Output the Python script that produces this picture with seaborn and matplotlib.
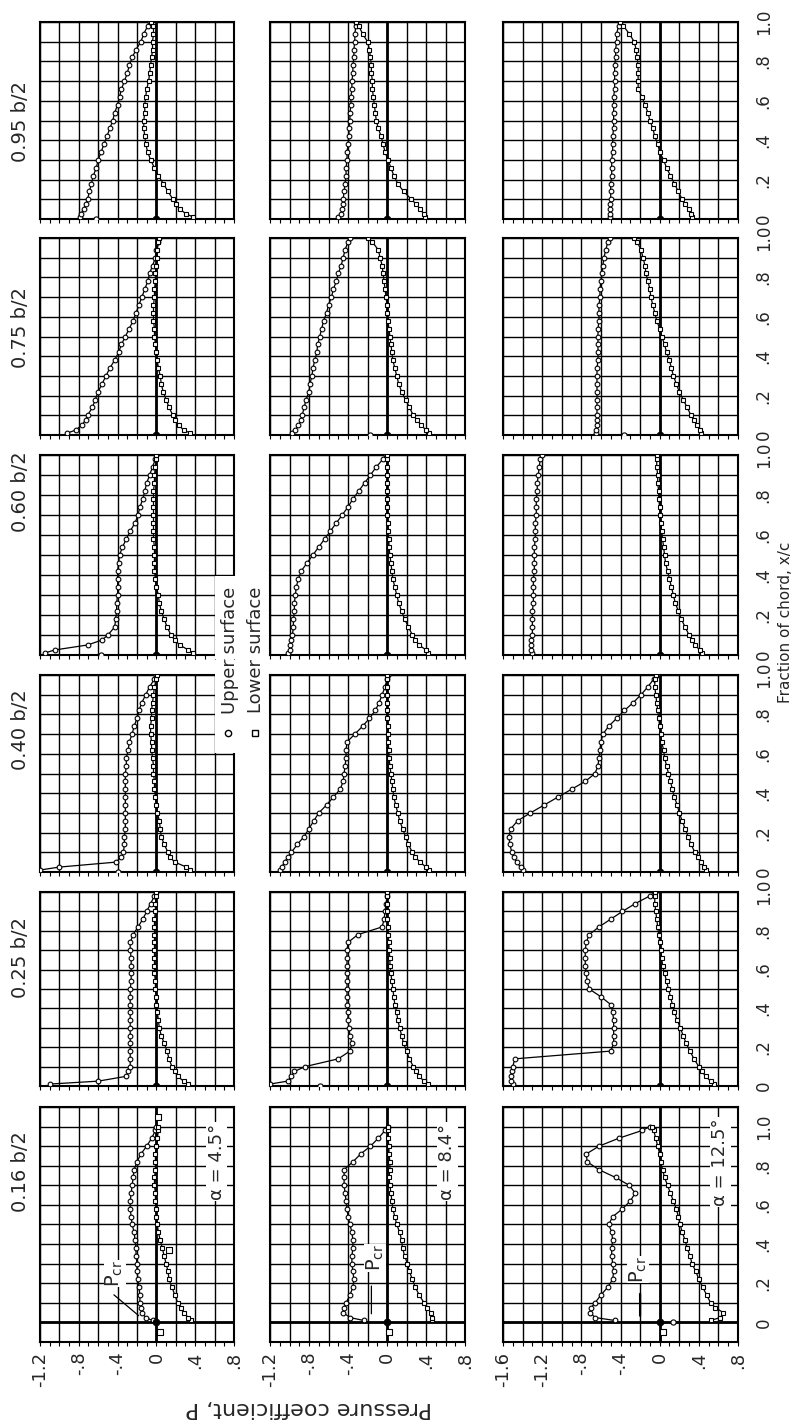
import numpy as np
import pandas as pd
import matplotlib
matplotlib.use("Agg")
import matplotlib.pyplot as plt
import seaborn as sns
from matplotlib.patches import Rectangle
from matplotlib.lines import Line2D

sns.set_theme(style="white")
plt.rcParams['font.family'] = ['DejaVu Sans']

# ---------------- data ----------------
chord = [0.01, 0.025, 0.05, 0.075, 0.10, 0.14, 0.18, 0.22, 0.26, 0.30, 0.34, 0.38, 0.42, 0.46,
         0.50, 0.54, 0.58, 0.62, 0.66, 0.70, 0.74, 0.78, 0.82, 0.86, 0.90, 0.94, 0.98, 1.0]

stations = ["0.95 b/2", "0.75 b/2", "0.60 b/2", "0.40 b/2", "0.25 b/2", "0.16 b/2"]
alphas = ["4.5°", "8.4°", "12.5°"]

# 0.95 b/2
u95_a45 = [-.79, -.78, -.75, -.73, -.71, -.69, -.67, -.65, -.62, -.60, -.57, -.54, -.51, -.48,
           -.45, -.43, -.40, -.38, -.36, -.33, -.30, -.28, -.25, -.21, -.16, -.13, -.09, -.07]
l95_a45 = [.38, .31, .24, .20, .17, .12, .07, .02, -.02, -.06, -.09, -.11, -.12, -.13,
           -.13, -.12, -.12, -.11, -.10, -.08, -.07, -.06, -.05, -.04, -.04, -.03, -.03, -.06]
u95_a84 = [-.50, -.47, -.46, -.45, -.45, -.44, -.43, -.42, -.42, -.41, -.41, -.40, -.39, -.39,
           -.38, -.38, -.37, -.37, -.36, -.36, -.35, -.35, -.34, -.34, -.33, -.33, -.32, -.32]
l95_a84 = [.39, .38, .34, .30, .25, .17, .11, .07, .04, .01, -.02, -.04, -.06, -.09,
           -.11, -.12, -.13, -.14, -.15, -.15, -.16, -.16, -.17, -.18, -.20, -.25, -.29, -.32]
u95_a125 = [-.51, -.51, -.51, -.51, -.50, -.50, -.50, -.49, -.49, -.49, -.48, -.48, -.48, -.47,
            -.47, -.47, -.47, -.47, -.46, -.46, -.46, -.46, -.45, -.45, -.44, -.44, -.42, -.41]
l95_a125 = [.33, .32, .30, .26, .23, .19, .15, .11, .07, .04, .00, -.02, -.05, -.07,
            -.10, -.12, -.15, -.18, -.22, -.22, -.22, -.22, -.23, -.24, -.26, -.31, -.37, -.41]
# 0.75 b/2
u75_a45 = [-.92, -.83, -.77, -.73, -.71, -.66, -.63, -.60, -.56, -.52, -.48, -.43, -.39, -.36,
           -.32, -.28, -.24, -.21, -.18, -.15, -.12, -.09, -.07, -.04, -.01, .00, .02, .03]
l75_a45 = [.35, .28, .23, .19, .17, .13, .10, .07, .05, .04, .02, .01, .00, -.01,
           -.02, -.02, -.03, -.03, -.03, -.02, -.02, -.01, -.01, .00, .01, .01, .02, .03]
u75_a84 = [-.97, -.94, -.91, -.88, -.87, -.85, -.83, -.80, -.79, -.77, -.76, -.74, -.72, -.71,
           -.69, -.67, -.65, -.62, -.60, -.57, -.55, -.52, -.50, -.47, -.45, -.43, -.40, -.38]
l75_a84 = [.43, .40, .35, .31, .27, .23, .19, .15, .12, .10, .08, .06, .05, .04,
           .03, .02, .01, .00, .00, -.01, -.02, -.03, -.04, -.05, -.07, -.09, -.15, -.19]
u75_a125 = [-.65, -.65, -.64, -.64, -.64, -.64, -.64, -.64, -.64, -.64, -.64, -.63, -.63, -.63,
            -.63, -.63, -.62, -.62, -.62, -.61, -.61, -.60, -.59, -.58, -.57, -.55, -.53, -.51]
l75_a125 = [.42, .41, .38, .35, .32, .28, .24, .20, .17, .14, .12, .10, .07, .05,
            .02, .00, -.03, -.05, -.07, -.09, -.10, -.12, -.14, -.15, -.17, -.19, -.23, -.26]
# 0.60 b/2
u60_a45 = [-1.15, -1.05, -.71, -.56, -.50, -.43, -.42, -.41, -.41, -.40, -.40, -.40, -.40, -.39,
           -.38, -.35, -.31, -.27, -.22, -.19, -.17, -.14, -.12, -.10, -.07, -.04, -.01, .00]
l60_a45 = [.38, .33, .24, .19, .15, .11, .08, .05, .03, .02, .00, -.01, -.02, -.02,
           -.02, -.02, -.03, -.03, -.03, -.03, -.03, -.03, -.03, -.02, -.02, -.01, .00, .00]
u60_a84 = [-1.02, -1.00, -.99, -.98, -.97, -.96, -.96, -.95, -.95, -.94, -.93, -.91, -.88, -.82,
           -.76, -.70, -.64, -.58, -.52, -.46, -.40, -.35, -.29, -.23, -.17, -.11, -.04, -.01]
l60_a84 = [.42, .40, .33, .29, .26, .22, .18, .15, .12, .10, .08, .06, .05, .04,
           .03, .02, .02, .01, .01, .00, .00, .00, .00, .00, .00, .00, .00, .00]
u60_a125 = [-1.30, -1.31, -1.31, -1.31, -1.30, -1.30, -1.30, -1.30, -1.29, -1.29, -1.29, -1.29, -1.28, -1.28,
            -1.28, -1.28, -1.27, -1.27, -1.27, -1.26, -1.26, -1.26, -1.25, -1.25, -1.24, -1.23, -1.22, -1.20]
l60_a125 = [.43, .41, .36, .33, .30, .26, .22, .19, .16, .14, .12, .10, .08, .06,
            .05, .04, .03, .02, .01, .00, .00, -.01, -.01, -.02, -.02, -.03, -.03, -.03]
# 0.40 b/2
u40_a45 = [-1.20, -1.00, -.42, -.36, -.34, -.33, -.33, -.32, -.32, -.32, -.32, -.32, -.32, -.32,
           -.32, -.31, -.31, -.29, -.28, -.25, -.23, -.20, -.18, -.15, -.11, -.07, -.02, .00]
l40_a45 = [.35, .31, .19, .14, .12, .08, .05, .04, .03, .01, .00, -.01, -.02, -.02,
           -.03, -.03, -.04, -.05, -.05, -.06, -.06, -.05, -.05, -.04, -.03, -.02, .00, .01]
u40_a84 = [-1.10, -1.08, -1.05, -1.02, -.98, -.92, -.85, -.80, -.75, -.70, -.62, -.55, -.48, -.45,
           -.44, -.43, -.42, -.42, -.41, -.33, -.25, -.18, -.12, -.08, -.05, -.02, .00, .01]
l40_a84 = [.43, .40, .34, .29, .26, .22, .19, .16, .13, .11, .09, .07, .06, .05,
           .04, .03, .02, .02, .01, .01, .01, .00, .00, .00, .00, .00, .00, .00]
u40_a125 = [-1.40, -1.42, -1.46, -1.49, -1.51, -1.53, -1.54, -1.52, -1.45, -1.32, -1.18, -1.04, -.90, -.76,
            -.66, -.63, -.62, -.61, -.60, -.58, -.52, -.44, -.36, -.27, -.19, -.12, -.06, -.03]
l40_a125 = [.47, .45, .42, .39, .36, .32, .29, .26, .23, .20, .18, .15, .13, .11,
            .09, .07, .05, .04, .02, .01, .00, -.01, -.02, -.03, -.04, -.05, -.05, -.04]
# 0.25 b/2
u25_a45 = [-1.10, -.60, -.31, -.29, -.27, -.27, -.27, -.27, -.27, -.27, -.27, -.27, -.27, -.27,
           -.27, -.26, -.26, -.26, -.26, -.27, -.27, -.24, -.19, -.14, -.10, -.06, -.02, .00]
l25_a45 = [.33, .28, .22, .19, .16, .13, .11, .08, .05, .03, .02, .01, .00, .00,
           -.01, -.01, -.02, -.02, -.02, -.02, -.02, -.02, -.02, -.02, -.01, -.01, .00, .00]
u25_a84 = [-1.20, -1.02, -.98, -.95, -.84, -.50, -.38, -.36, -.38, -.39, -.40, -.40, -.41, -.41,
           -.41, -.41, -.41, -.41, -.41, -.41, -.40, -.30, -.05, -.03, -.02, -.01, .00, .00]
l25_a84 = [.42, .38, .33, .30, .27, .23, .20, .17, .15, .13, .11, .10, .08, .07,
           .06, .05, .04, .03, .03, .02, .02, .01, .01, .00, .00, .00, .00, .00]
u25_a125 = [-1.50, -1.52, -1.52, -1.51, -1.50, -1.48, -.50, -.47, -.47, -.47, -.47, -.48, -.50, -.60,
            -.72, -.74, -.75, -.76, -.76, -.76, -.75, -.72, -.62, -.50, -.38, -.25, -.10, -.05]
l25_a125 = [.55, .52, .47, .43, .40, .35, .31, .27, .24, .21, .18, .15, .13, .11,
            .09, .07, .05, .03, .02, .01, .00, -.01, -.02, -.03, -.04, -.05, -.05, -.05]
# 0.16 b/2
u16_a45 = [-.04, -.11, -.15, -.16, -.17, -.17, -.18, -.19, -.20, -.20, -.21, -.21, -.22, -.23,
           -.25, -.26, -.27, -.27, -.26, -.25, -.24, -.23, -.20, -.16, -.10, -.05, -.01, .00]
l16_a45 = [.36, .33, .28, .25, .22, .19, .16, .13, .12, .10, .08, .06, .04, .02,
           .01, .00, .00, -.01, -.01, -.02, -.02, -.01, -.01, -.01, .00, .01, .02, .02]
u16_a84 = [-.24, -.38, -.45, -.44, -.42, -.38, -.35, -.34, -.35, -.36, -.36, -.35, -.35, -.36,
           -.38, -.40, -.41, -.42, -.43, -.44, -.44, -.44, -.35, -.27, -.17, -.09, -.02, .01]
l16_a84 = [.46, .46, .45, .41, .38, .33, .29, .26, .23, .21, .18, .16, .15, .13,
           .10, .08, .06, .05, .04, .03, .02, .03, .03, .02, .02, .01, .01, .01]
u16_a125 = [-.46, -.66, -.71, -.70, -.66, -.60, -.53, -.48, -.47, -.48, -.49, -.49, -.48, -.49,
            -.52, -.48, -.38, -.30, -.25, -.31, -.45, -.62, -.74, -.75, -.62, -.42, -.18, -.10]
l16_a125 = [.52, .62, .65, .57, .52, .48, .44, .40, .37, .33, .31, .28, .26, .23,
            .21, .19, .17, .14, .11, .08, .05, .03, .01, .00, -.02, -.04, -.06, -.08]

# isolated leading-edge orifice readings (x/c = 0), upper surface
le_station = ["0.95 b/2", "0.75 b/2", "0.75 b/2", "0.60 b/2", "0.40 b/2", "0.25 b/2", "0.16 b/2"]
le_alpha = ["4.5°", "8.4°", "12.5°", "4.5°", "4.5°", "8.4°", "12.5°"]
le_p = [-0.62, -0.17, -0.36, -0.57, -0.40, -0.69, 0.14]
# isolated lower-surface readings
iso_station = ["0.16 b/2", "0.16 b/2", "0.16 b/2", "0.16 b/2", "0.16 b/2"]
iso_alpha = ["4.5°", "4.5°", "4.5°", "8.4°", "12.5°"]
iso_xc = [-0.05, 0.37, 1.05, -0.05, -0.05]
iso_p = [0.04, 0.13, 0.02, 0.02, 0.03]

# Pcr marks on 0.16 b/2 panels
pcr_p = [-0.17, -0.16, -0.20]

series = {
    ("0.95 b/2", "4.5°"): (u95_a45, l95_a45), ("0.95 b/2", "8.4°"): (u95_a84, l95_a84),
    ("0.95 b/2", "12.5°"): (u95_a125, l95_a125),
    ("0.75 b/2", "4.5°"): (u75_a45, l75_a45), ("0.75 b/2", "8.4°"): (u75_a84, l75_a84),
    ("0.75 b/2", "12.5°"): (u75_a125, l75_a125),
    ("0.60 b/2", "4.5°"): (u60_a45, l60_a45), ("0.60 b/2", "8.4°"): (u60_a84, l60_a84),
    ("0.60 b/2", "12.5°"): (u60_a125, l60_a125),
    ("0.40 b/2", "4.5°"): (u40_a45, l40_a45), ("0.40 b/2", "8.4°"): (u40_a84, l40_a84),
    ("0.40 b/2", "12.5°"): (u40_a125, l40_a125),
    ("0.25 b/2", "4.5°"): (u25_a45, l25_a45), ("0.25 b/2", "8.4°"): (u25_a84, l25_a84),
    ("0.25 b/2", "12.5°"): (u25_a125, l25_a125),
    ("0.16 b/2", "4.5°"): (u16_a45, l16_a45), ("0.16 b/2", "8.4°"): (u16_a84, l16_a84),
    ("0.16 b/2", "12.5°"): (u16_a125, l16_a125),
}

recs = []
for (st, al), (up, lo) in series.items():
    for i, (xc, p) in enumerate(zip(chord, up)):
        recs.append((st, al, "Upper surface", i, xc, p))
    for i, (xc, p) in enumerate(zip(chord, lo)):
        recs.append((st, al, "Lower surface", i, xc, p))
df = pd.DataFrame(recs, columns=["station", "alpha", "surface", "order", "xc", "P"])

le_df = pd.DataFrame({"station": le_station, "alpha": le_alpha, "xc": 0.0, "P": le_p})
iso_df = pd.DataFrame({"station": iso_station, "alpha": iso_alpha, "xc": iso_xc, "P": iso_p})

# ---------------- layout ----------------
W, H = 797, 1425
fig = plt.figure(figsize=(W / 100, H / 100), dpi=100)
fig.patch.set_facecolor("white")

rows_px = [(22, 219), (238, 435), (455, 655), (675, 872), (892, 1086), (1107, 1342)]
cols_px = [(40, 234), (270, 465), (503, 738)]
xlims = [(-1.2, 0.8), (-1.2, 0.8), (-1.6, 0.8)]
label_centers = [122, 328, 492, 730, 958, 1172]

def fx(x):
    return x / W

def fy(y):
    return 1 - y / H

bottom_labels = {-1.6: "-1.6", -1.2: "-1.2", -0.8: "-.8", -0.4: "-.4", 0.0: "0", 0.4: ".4", 0.8: ".8"}
right_labels = {0.0: "0", 0.2: ".2", 0.4: ".4", 0.6: ".6", 0.8: ".8", 1.0: "1.0"}

mk = dict(markersize=3.4, markerfacecolor="white", markeredgecolor="black", markeredgewidth=0.8)

axes = {}
for r, st in enumerate(stations):
    y0, y1 = rows_px[r]
    last = (r == len(stations) - 1)
    ylo, yhi = (-0.1, 1.1) if last else (0.0, 1.0)
    for c, al in enumerate(alphas):
        x0, x1 = cols_px[c]
        ax = fig.add_axes([fx(x0), fy(y1), fx(x1 - x0), (y1 - y0) / H])
        axes[(r, c)] = ax
        lo_, hi_ = xlims[c]
        xt = np.round(np.arange(lo_, hi_ + 1e-6, 0.2), 2)
        yt = np.round(np.arange(ylo, yhi + 1e-6, 0.1), 2)
        ax.set_xticks(xt)
        ax.set_yticks(yt)
        ax.set_xticks(np.round(np.arange(lo_, hi_ + 1e-6, 0.1), 2), minor=True)
        ax.grid(True, which="major", color="black", lw=1.0)
        ax.set_axisbelow(True)
        for s in ax.spines.values():
            s.set_color("black")
            s.set_linewidth(1.5)
        ax.axvline(0, color="black", lw=2.0, zorder=1.5)
        ax.axhline(0, color="black", lw=2.0, zorder=1.5)

        sub = df[(df.station == st) & (df.alpha == al)]
        up = sub[sub.surface == "Upper surface"]
        lo = sub[sub.surface == "Lower surface"]
        sns.lineplot(data=up, x="P", y="xc", sort=False, estimator=None, color="black",
                     lw=0.9, marker="o", ax=ax, zorder=3, **mk)
        sns.lineplot(data=lo, x="P", y="xc", sort=False, estimator=None, color="black",
                     lw=0.9, marker="s", ax=ax, zorder=3, **mk)
        le = le_df[(le_df.station == st) & (le_df.alpha == al)]
        if len(le):
            sns.scatterplot(data=le, x="P", y="xc", marker="o", s=14, facecolor="white",
                            edgecolor="black", linewidth=0.8, ax=ax, zorder=4)
        iso = iso_df[(iso_df.station == st) & (iso_df.alpha == al)]
        if len(iso):
            sns.scatterplot(data=iso, x="P", y="xc", marker="s", s=14, facecolor="white",
                            edgecolor="black", linewidth=0.8, ax=ax, zorder=4)
        ax.plot([0], [0], marker="o", color="black", ms=4.5, zorder=5)

        ax.set_xlim(lo_, hi_)
        ax.set_ylim(ylo, yhi)
        ax.set_xlabel("")
        ax.set_ylabel("")
        ax.tick_params(axis="x", which="both", bottom=True, direction="out", length=3,
                       width=0.8, color="black", top=False)
        ax.tick_params(axis="y", which="both", left=False, right=False)
        if last:
            ax.set_xticklabels([bottom_labels.get(round(v, 1), "") for v in xt])
            ax.tick_params(axis="x", labelsize=13, labelrotation=90, pad=4)
        else:
            ax.set_xticklabels([])
        if c == 2:
            ax.set_yticklabels([right_labels.get(round(v, 1), "") if v >= -1e-9 else "" for v in yt])
            ax.tick_params(axis="y", labelleft=False, labelright=True, labelsize=12,
                           labelrotation=90, pad=6)
            for lab in ax.get_yticklabels():
                lab.set_va("center")
        else:
            ax.set_yticklabels([])

# white cut-outs around legend (col 1, rows 0.60 and 0.40)
for (r, y_a, y_b) in [(2, -0.02, 0.397), (3, 0.603, 1.02)]:
    ax = axes[(r, 0)]
    ax.add_patch(Rectangle((0.603, y_a), 0.3, y_b - y_a, facecolor="white", edgecolor="none",
                           zorder=2.6, clip_on=False))

# station labels (left)
for r, st in enumerate(stations):
    fig.text(fx(20), fy(label_centers[r]), st, rotation=90, ha="center", va="center", fontsize=14)

# alpha labels
for c, al in enumerate(alphas):
    ax = axes[(5, c)]
    ax.text(0.62, 0.82, "α = " + al, rotation=90, ha="center", va="center", fontsize=13,
            zorder=6, bbox=dict(facecolor="white", edgecolor="none", pad=1.0))

# Pcr labels with leaders
pcr_text = [(-0.43, 0.25), (-0.12, 0.33), (-0.22, 0.27)]
pcr_lead = [((-0.46, 0.15), (-0.16, 0.025)), ((-0.16, 0.2), (-0.16, 0.03)), ((-0.20, 0.16), (-0.20, 0.02))]
for c in range(3):
    ax = axes[(5, c)]
    tx, ty = pcr_text[c]
    ax.text(tx, ty, r"$\mathregular{P_{cr}}$", rotation=90, ha="center", va="center",
            fontsize=14, zorder=6, bbox=dict(facecolor="white", edgecolor="none", pad=0.3))
    (ax0, ay0), (ax1, ay1) = pcr_lead[c]
    ax1 = pcr_p[c] if c > 0 else ax1
    ax.annotate("", xy=(ax1, ay1), xytext=(ax0, ay0),
                arrowprops=dict(arrowstyle="-", lw=1.6 if c == 2 else 0.9, color="black"), zorder=6)

# legend
fig.text(fx(230), fy(650), "Upper surface", rotation=90, ha="center", va="center", fontsize=13)
fig.text(fx(256), fy(650), "Lower surface", rotation=90, ha="center", va="center", fontsize=13)
fig.add_artist(Line2D([fx(228)], [fy(733)], transform=fig.transFigure, marker="o", ls="none",
                      markersize=4.5, markerfacecolor="white", markeredgecolor="black", markeredgewidth=1.0))
fig.add_artist(Line2D([fx(255)], [fy(733)], transform=fig.transFigure, marker="s", ls="none",
                      markersize=4.5, markerfacecolor="white", markeredgecolor="black", markeredgewidth=1.0))

# axis titles
fig.text(fx(309), fy(1408), "Pressure coefficient, P", rotation=180, ha="center", va="center", fontsize=16)
fig.text(fx(786), fy(622), "Fraction of chord, x/c", rotation=90, ha="center", va="center", fontsize=11)

fig.savefig("out.png", dpi=100, facecolor="white")
